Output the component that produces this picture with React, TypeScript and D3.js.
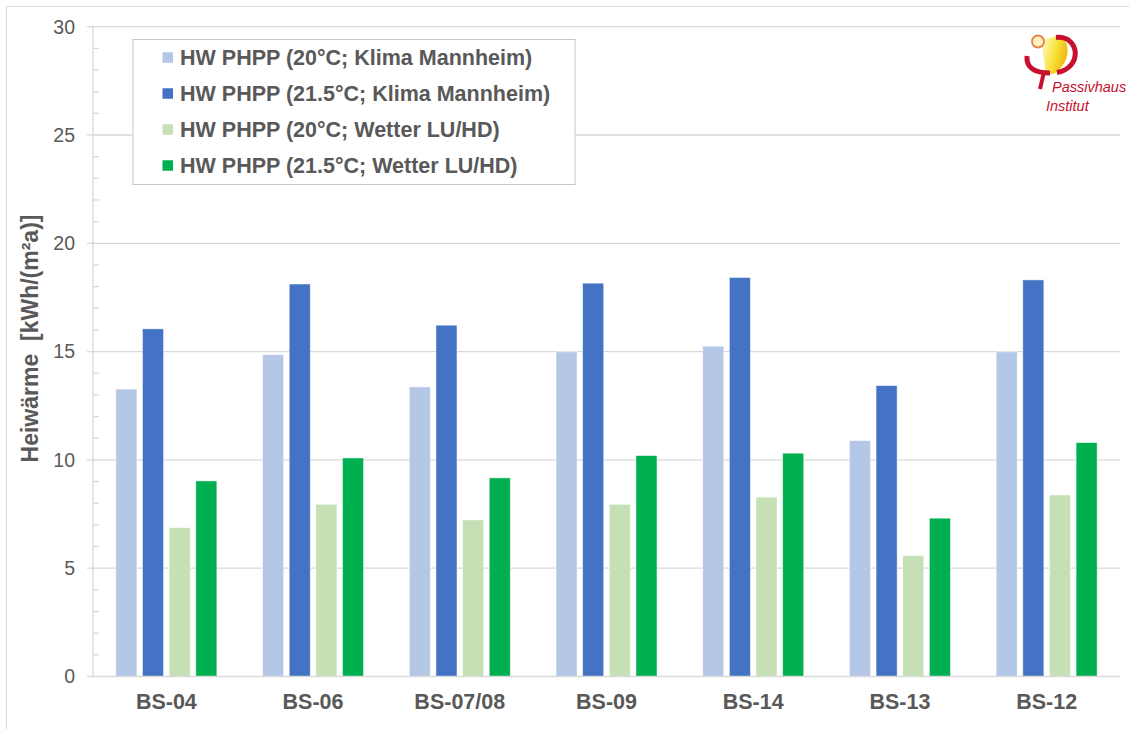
import React, { useEffect, useRef } from 'react';
import * as d3 from 'd3';

const categories = ['BS-04', 'BS-06', 'BS-07/08', 'BS-09', 'BS-14', 'BS-13', 'BS-12'];
const seriesNames = [
    'HW PHPP (20°C; Klima Mannheim)',
    'HW PHPP (21.5°C; Klima Mannheim)',
    'HW PHPP (20°C; Wetter LU/HD)',
    'HW PHPP (21.5°C; Wetter LU/HD)'
];
const klima20 = [13.27, 14.86, 13.37, 14.99, 15.25, 10.89, 14.99];
const klima215 = [16.05, 18.12, 16.22, 18.16, 18.42, 13.43, 18.31];
const wetter20 = [6.87, 7.95, 7.23, 7.95, 8.28, 5.58, 8.38];
const wetter215 = [9.03, 10.09, 9.17, 10.2, 10.31, 7.31, 10.8];
const yTicks = [0, 5, 10, 15, 20, 25, 30];
const colors = ['#B4C7E7', '#4472C4', '#C5E0B4', '#00B050'];

const FONT = '"Liberation Sans", Arial, sans-serif';
const TEXT = '#595959';
const LINE = '#d9d9d9';

export default function App() {
    const ref = useRef<SVGSVGElement>(null);

    useEffect(() => {
        const svg = d3.select(ref.current);
        svg.selectAll('*').remove();

        const left = 93, right = 1120, top = 26.7, bottom = 676.5;
        const series = [klima20, klima215, wetter20, wetter215];

        // outer frame
        svg.append('rect')
            .attr('x', 6.5).attr('y', 6.5)
            .attr('width', 1140).attr('height', 740)
            .attr('fill', '#fff').attr('stroke', LINE);

        const y = d3.scaleLinear().domain([0, 30]).range([bottom, top]);
        const x0 = d3.scaleBand().domain(categories).range([left, right]).padding(0);
        const x1 = d3.scaleBand<number>()
            .domain([0, 1, 2, 3])
            .range([0, 101])
            .paddingInner(0.21);
        const offset = (x0.bandwidth() - 101) / 2;

        // gridlines
        svg.append('g').selectAll('line')
            .data(yTicks.slice(1))
            .enter().append('line')
            .attr('x1', left).attr('x2', right)
            .attr('y1', d => y(d)).attr('y2', d => y(d))
            .attr('stroke', LINE).attr('stroke-width', 1.3);

        // y axis
        const ax = svg.append('g');
        ax.append('line')
            .attr('x1', left).attr('x2', left)
            .attr('y1', top).attr('y2', bottom)
            .attr('stroke', LINE).attr('stroke-width', 1.3);
        ax.selectAll('.major')
            .data(yTicks).enter().append('line')
            .attr('x1', left - 6).attr('x2', left)
            .attr('y1', d => y(d)).attr('y2', d => y(d))
            .attr('stroke', LINE).attr('stroke-width', 1.3);
        ax.selectAll('.minor')
            .data(d3.range(0, 31).filter(v => v % 5 !== 0))
            .enter().append('line')
            .attr('x1', left).attr('x2', left + 6)
            .attr('y1', d => y(d)).attr('y2', d => y(d))
            .attr('stroke', LINE).attr('stroke-width', 1.3);
        ax.selectAll('text')
            .data(yTicks).enter().append('text')
            .attr('x', 75).attr('y', d => y(d))
            .attr('dy', '0.35em')
            .attr('text-anchor', 'end')
            .attr('font-family', FONT).attr('font-size', 19.5)
            .attr('fill', TEXT)
            .text(d => d);

        // axis title
        svg.append('text')
            .attr('transform', 'translate(37.5, 338.5) rotate(-90)')
            .attr('text-anchor', 'middle')
            .attr('font-family', FONT).attr('font-size', 23).attr('font-weight', 'bold')
            .attr('fill', TEXT)
            .style('white-space', 'pre')
            .text('Heiwärme  [kWh/(m²a)]');

        // bars
        const groups = svg.append('g').selectAll('g')
            .data(categories).enter().append('g')
            .attr('transform', d => 'translate(' + ((x0(d) as number) + offset) + ',0)');
        groups.selectAll('rect')
            .data((d, i) => series.map((s, k) => ({ k, v: s[i] })))
            .enter().append('rect')
            .attr('x', d => x1(d.k) as number)
            .attr('width', x1.bandwidth())
            .attr('y', d => y(d.v))
            .attr('height', d => bottom - y(d.v))
            .attr('fill', d => colors[d.k])
            .attr('stroke', '#fff').attr('stroke-opacity', 0.6).attr('stroke-width', 0.8);

        // x baseline
        svg.append('line')
            .attr('x1', left).attr('x2', right)
            .attr('y1', bottom).attr('y2', bottom)
            .attr('stroke', LINE).attr('stroke-width', 1.3);

        // category labels
        svg.append('g').selectAll('text')
            .data(categories).enter().append('text')
            .attr('x', d => (x0(d) as number) + x0.bandwidth() / 2)
            .attr('y', 709)
            .attr('text-anchor', 'middle')
            .attr('font-family', FONT).attr('font-size', 21.5).attr('font-weight', 'bold')
            .attr('fill', TEXT)
            .text(d => d);

        // legend
        const lg = svg.append('g');
        lg.append('rect')
            .attr('x', 133).attr('y', 39.5)
            .attr('width', 442).attr('height', 145)
            .attr('fill', '#fff').attr('stroke', '#c8c8c8');
        const rows = lg.selectAll('.row')
            .data(seriesNames).enter().append('g')
            .attr('transform', (d, i) => 'translate(0,' + (57.5 + i * 36) + ')');
        rows.append('rect')
            .attr('x', 162.5).attr('y', -5.25)
            .attr('width', 10.5).attr('height', 10.5)
            .attr('fill', (d, i) => colors[i]);
        rows.append('text')
            .attr('x', 180).attr('y', 7.7)
            .attr('font-family', FONT).attr('font-size', 21.5).attr('font-weight', 'bold')
            .attr('fill', TEXT)
            .text(d => d);

        // logo
        const defs = svg.append('defs');
        const grad = defs.append('linearGradient').attr('id', 'sun')
            .attr('x1', '0').attr('y1', '0').attr('x2', '1').attr('y2', '0.4');
        grad.append('stop').attr('offset', '0').attr('stop-color', '#fffbe0');
        grad.append('stop').attr('offset', '0.6').attr('stop-color', '#f9e23a');
        grad.append('stop').attr('offset', '1').attr('stop-color', '#f0bc10');
        const logo = svg.append('g');
        logo.append('path')
            .attr('d', 'M1041,40 L1062,35 C1072,48 1068,64 1054,74 L1046,74 Z')
            .attr('fill', 'url(#sun)');
        logo.append('circle')
            .attr('cx', 1038).attr('cy', 41.5).attr('r', 6)
            .attr('fill', '#fdf1c0').attr('stroke', '#e8804a').attr('stroke-width', 1.8);
        logo.append('path')
            .attr('d', 'M1056,37.5 C1080,35 1083,68 1057,72.5')
            .attr('fill', 'none').attr('stroke', '#c8102e').attr('stroke-width', 5);
        logo.append('path')
            .attr('d', 'M1027,56 C1026,68 1035,73 1050,73')
            .attr('fill', 'none').attr('stroke', '#c8102e').attr('stroke-width', 5);
        logo.append('path')
            .attr('d', 'M1044,72 L1040,89')
            .attr('fill', 'none').attr('stroke', '#c8102e').attr('stroke-width', 4);
        logo.append('text')
            .attr('x', 1052).attr('y', 91.5)
            .attr('font-family', FONT).attr('font-size', 14.5).attr('font-style', 'italic')
            .attr('fill', '#c8102e')
            .text('Passivhaus');
        logo.append('text')
            .attr('x', 1046).attr('y', 111)
            .attr('font-family', FONT).attr('font-size', 14.5).attr('font-style', 'italic')
            .attr('fill', '#c8102e')
            .text('Institut');
    }, []);

    return (
        <svg ref={ref} width={1129} height={729}
             style={{ position: 'absolute', left: 0, top: 0, background: '#fff' }} />
    );
}
